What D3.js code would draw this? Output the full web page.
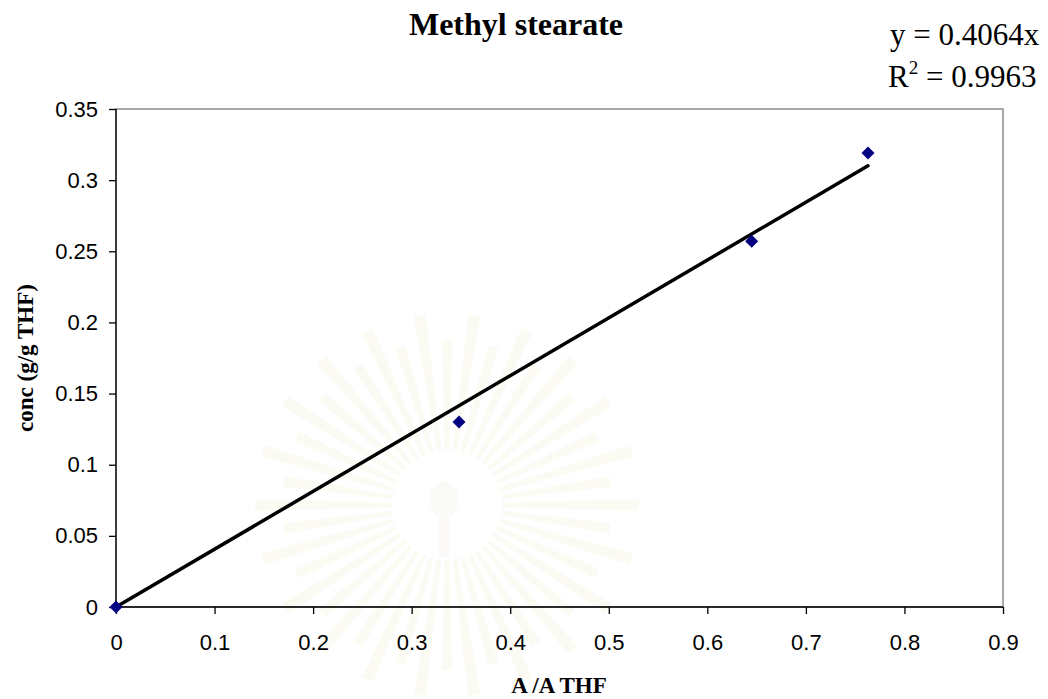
<!DOCTYPE html>
<html>
<head>
<meta charset="utf-8">
<script src="https://cdn.jsdelivr.net/npm/d3@7/dist/d3.min.js"></script>
<style>
  html, body { margin: 0; padding: 0; background: #ffffff; }
  svg { display: block; }
</style>
</head>
<body>
<script>
// Calibration data: peak area ratio vs concentration
const areaRatio = [0, 0.348, 0.645, 0.763];
const concentration = [0, 0.130, 0.257, 0.319];
const slope = 0.4064;
const rSquared = "0.9963";
const xTicks = [0, 0.1, 0.2, 0.3, 0.4, 0.5, 0.6, 0.7, 0.8, 0.9];
const yTicks = [0, 0.05, 0.1, 0.15, 0.2, 0.25, 0.3, 0.35];
const chartTitle = "Methyl stearate";
const xTitle = "A /A THF";
const yTitle = "conc (g/g THF)";

const W = 1048, H = 699;
const margin = { left: 116, right: 45, top: 109, bottom: 92 };

const svg = d3.select("body").append("svg")
  .attr("width", W).attr("height", H);

const x = d3.scaleLinear().domain([0, 0.9]).range([margin.left, W - margin.right]);
const y = d3.scaleLinear().domain([0, 0.35]).range([H - margin.bottom, margin.top]);

// faint background emblem: radiating rays around a hollow centre
const emblem = svg.append("g").attr("transform", "translate(447,505)").attr("opacity", 0.2);
const nRays = 44;
for (let i = 0; i < nRays; i++) {
  const a = (i / nRays) * 2 * Math.PI;
  const half = (Math.PI / nRays) * 0.55;
  const r0 = 55, r1 = i % 2 ? 165 : 192;
  const pts = [
    [Math.cos(a - half) * r0, Math.sin(a - half) * r0],
    [Math.cos(a - half * 0.8) * r1, Math.sin(a - half * 0.8) * r1],
    [Math.cos(a + half * 0.8) * r1, Math.sin(a + half * 0.8) * r1],
    [Math.cos(a + half) * r0, Math.sin(a + half) * r0]
  ];
  emblem.append("path")
    .attr("d", d3.line()(pts) + "Z")
    .attr("fill", "#f5ecc8");
}
emblem.append("ellipse").attr("cx", -3).attr("cy", -5).attr("rx", 14).attr("ry", 18).attr("fill", "#e6e2d6");
emblem.append("rect").attr("x", -8).attr("y", 12).attr("width", 10).attr("height", 40).attr("fill", "#e9e5da");

// plot-area frame
svg.append("rect")
  .attr("x", x(0)).attr("y", y(0.35))
  .attr("width", x(0.9) - x(0)).attr("height", y(0) - y(0.35))
  .attr("fill", "none").attr("stroke", "#8c8c8c").attr("stroke-width", 1.5);

// axes
const xAxis = d3.axisBottom(x).tickValues(xTicks).tickSize(7).tickPadding(20)
  .tickFormat(d => d3.format("")(+d.toFixed(2)));
const yAxis = d3.axisLeft(y).tickValues(yTicks).tickSize(7).tickPadding(11)
  .tickFormat(d => d3.format("")(+d.toFixed(2)));

const gx = svg.append("g").attr("transform", `translate(0,${y(0)})`).call(xAxis);
const gy = svg.append("g").attr("transform", `translate(${x(0)},0)`).call(yAxis);
[gx, gy].forEach(g => {
  g.select(".domain").attr("stroke", "#000").attr("stroke-width", 1.3);
  g.selectAll(".tick line").attr("stroke", "#000").attr("stroke-width", 1.3);
  g.selectAll(".tick text")
    .attr("fill", "#000")
    .attr("font-family", "'Liberation Sans', Arial, sans-serif")
    .attr("font-size", 22);
});
gx.select(".domain").attr("d", `M${x(0)},0H${x(0.9)}`);
gy.select(".domain").attr("d", `M0,${y(0)}V${y(0.35)}`);

// linear fit through the origin
const xMax = d3.max(areaRatio);
svg.append("line")
  .attr("x1", x(0)).attr("y1", y(0))
  .attr("x2", x(xMax)).attr("y2", y(slope * xMax))
  .attr("stroke", "#000").attr("stroke-width", 3.5)
  .attr("stroke-linecap", "round");

// measured points
svg.append("g").selectAll("path")
  .data(areaRatio.map((v, i) => [v, concentration[i]]))
  .join("path")
  .attr("transform", d => `translate(${x(d[0])},${y(d[1])})`)
  .attr("d", "M0,-6.5L6.5,0L0,6.5L-6.5,0Z")
  .attr("fill", "#000080");

// titles
svg.append("text")
  .attr("x", 516).attr("y", 35)
  .attr("text-anchor", "middle")
  .attr("font-family", "'Liberation Serif', 'Times New Roman', serif")
  .attr("font-weight", "bold").attr("font-size", 32)
  .text(chartTitle);

svg.append("text")
  .attr("x", 559).attr("y", 693)
  .attr("text-anchor", "middle")
  .attr("font-family", "'Liberation Serif', 'Times New Roman', serif")
  .attr("font-weight", "bold").attr("font-size", 23)
  .text(xTitle);

svg.append("text")
  .attr("transform", "translate(33,358) rotate(-90)")
  .attr("text-anchor", "middle")
  .attr("font-family", "'Liberation Serif', 'Times New Roman', serif")
  .attr("font-weight", "bold").attr("font-size", 23)
  .text(yTitle);

// regression equation
const eq = svg.append("g")
  .attr("font-family", "'Liberation Serif', 'Times New Roman', serif")
  .attr("font-size", 31).attr("fill", "#000");
eq.append("text").attr("x", 890).attr("y", 45).text(`y = ${slope}x`);
const r2 = eq.append("text").attr("x", 888).attr("y", 87);
r2.append("tspan").text("R");
r2.append("tspan").attr("dy", -13).attr("font-size", 19).text("2");
r2.append("tspan").attr("dy", 13).text(` = ${rSquared}`);
</script>
</body>
</html>
